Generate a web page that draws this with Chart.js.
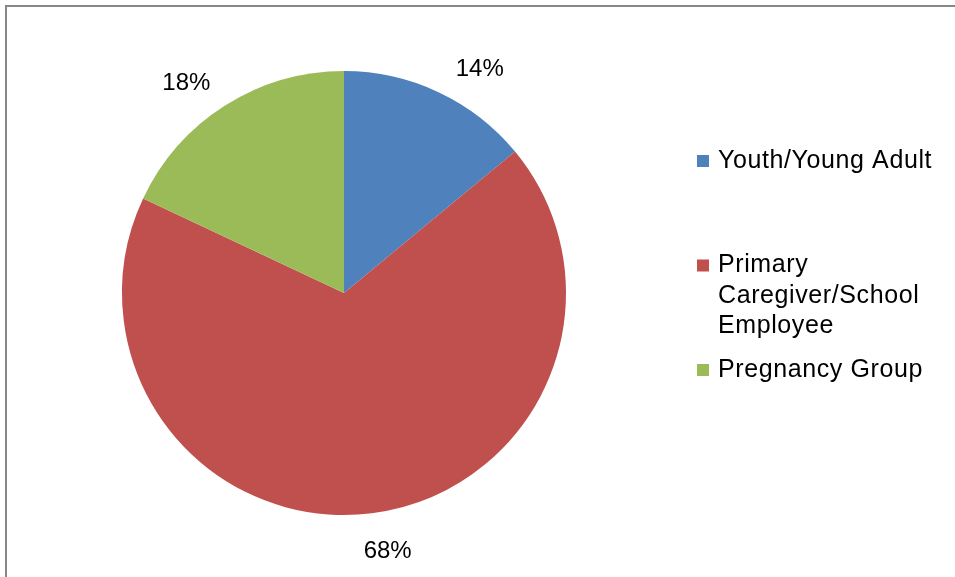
<!DOCTYPE html>
<html>
<head>
<meta charset="utf-8">
<title>Participants by group</title>
<script src="https://cdn.jsdelivr.net/npm/chart.js@4"></script>
<style>
  html, body { margin: 0; padding: 0; background: #fff; }
  #wrap { width: 955px; height: 577px; position: relative; }
</style>
</head>
<body>
<div id="wrap"><canvas id="chart" width="955" height="577"></canvas></div>
<script>
const groups = ["Youth/Young Adult", "Primary Caregiver/School Employee", "Pregnancy Group"];
const shares = [14, 68, 18];
const sliceColors = ["#4F81BD", "#C0504D", "#9BBB59"];

const FONT = "'Liberation Sans', Arial, sans-serif";

// grey frame along the top and left edge
const framePlugin = {
  id: "frame",
  beforeDraw(chart) {
    const ctx = chart.ctx;
    ctx.save();
    ctx.strokeStyle = "#888888";
    ctx.lineWidth = 2;
    ctx.beginPath();
    ctx.moveTo(6, chart.height);
    ctx.lineTo(6, 6);
    ctx.lineTo(chart.width, 6);
    ctx.stroke();
    ctx.restore();
  }
};

// percentage labels just outside each slice
const outsideLabels = {
  id: "outsideLabels",
  afterDatasetsDraw(chart, args, opts) {
    const ctx = chart.ctx;
    const meta = chart.getDatasetMeta(0);
    const total = shares.reduce((a, b) => a + b, 0);
    ctx.save();
    ctx.font = "24px " + FONT;
    ctx.fillStyle = "#000";
    ctx.textAlign = "center";
    ctx.textBaseline = "middle";
    meta.data.forEach((arc, i) => {
      const mid = (arc.startAngle + arc.endAngle) / 2 + (opts.shift[i] || 0) * Math.PI / 180;
      const r = arc.outerRadius + opts.gap;
      const x = arc.x + Math.cos(mid) * r;
      const y = arc.y + Math.sin(mid) * r;
      ctx.fillText(Math.round(shares[i] / total * 100) + "%", x, y);
    });
    ctx.restore();
  }
};

// legend on the right with wrapped entries
const sideLegend = {
  id: "sideLegend",
  afterDraw(chart, args, opts) {
    const ctx = chart.ctx;
    ctx.save();
    ctx.font = "25px " + FONT;
    ctx.letterSpacing = "0.6px";
    ctx.textBaseline = "middle";
    groups.forEach((name, i) => {
      const y0 = opts.top + i * opts.step;
      // wrap words to the legend width
      const lines = [];
      let line = "";
      name.split(" ").forEach(w => {
        const test = line ? line + " " + w : w;
        if (ctx.measureText(test).width > opts.maxWidth && line) {
          lines.push(line);
          line = w;
        } else {
          line = test;
        }
      });
      lines.push(line);
      ctx.fillStyle = sliceColors[i];
      ctx.fillRect(opts.left, y0 - 6, 12, 12);
      ctx.fillStyle = "#000";
      lines.forEach((l, j) => ctx.fillText(l, opts.left + 21, y0 + j * opts.lineHeight));
    });
    ctx.restore();
  }
};

new Chart(document.getElementById("chart"), {
  type: "pie",
  data: {
    labels: groups,
    datasets: [{
      data: shares,
      backgroundColor: sliceColors,
      borderWidth: 0
    }]
  },
  options: {
    responsive: false,
    animation: false,
    layout: { padding: { left: 122, right: 389, top: 71, bottom: 62 } },
    plugins: {
      legend: { display: false },
      tooltip: { enabled: false },
      outsideLabels: { gap: 40, shift: [6, -2.4, -4.6] },
      sideLegend: { left: 697, top: 161, step: 104.5, lineHeight: 30.5, maxWidth: 230 }
    }
  },
  plugins: [framePlugin, outsideLabels, sideLegend]
});
</script>
</body>
</html>
